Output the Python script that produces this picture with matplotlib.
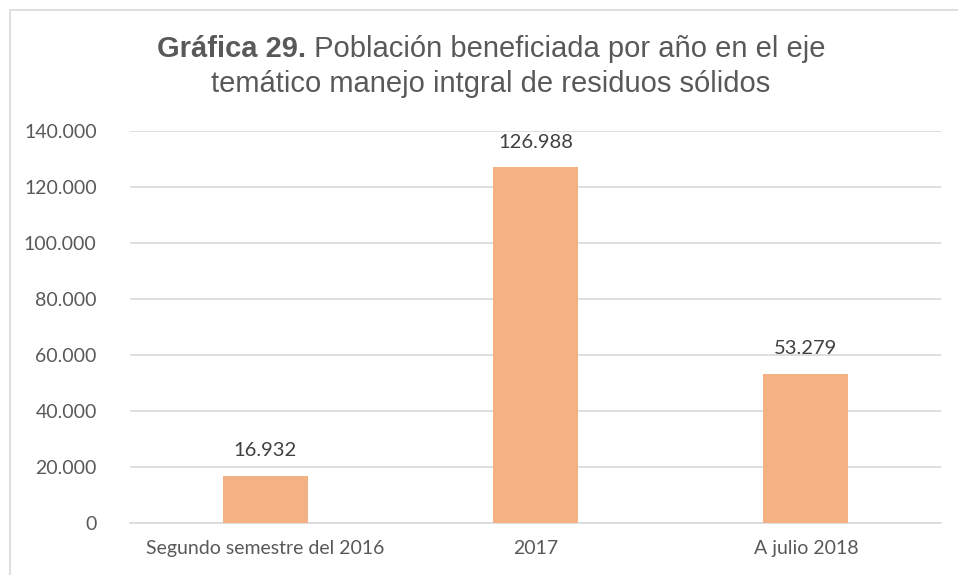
import matplotlib
matplotlib.use("Agg")
import matplotlib.pyplot as plt
from matplotlib.patches import Rectangle
from matplotlib.ticker import FuncFormatter

categories = ["Segundo semestre del 2016", "2017", "A julio 2018"]
values = [16932, 126988, 53279]
yticks = [0, 20000, 40000, 60000, 80000, 100000, 120000, 140000]

def fmt(v):
    return f"{int(v):,}".replace(",", ".")

W, H = 958, 575
fig = plt.figure(figsize=(W / 100, H / 100), dpi=100)
fig.patch.set_facecolor("white")

# chart border
fig.patches.append(Rectangle((10 / W, -0.1), 1.2, 1 - 10 / H + 0.1,
                             transform=fig.transFigure, fill=False,
                             edgecolor="#D9D9D9", linewidth=1.2))

ax = fig.add_axes([130 / W, 1 - 523 / H, (941 - 130) / W, (523 - 131) / H])
x = range(len(categories))
ax.bar(x, values, width=0.315, color="#F4B183", zorder=3)
ax.set_xlim(-0.5, len(categories) - 0.5)
ax.set_ylim(0, 140000)
ax.set_yticks(yticks)
ax.yaxis.set_major_formatter(FuncFormatter(lambda v, p: fmt(v)))
ax.set_xticks(list(x))
ax.set_xticklabels(categories)
ax.grid(axis="y", color="#D9D9D9", linewidth=1.2, zorder=0)
for s in ["top", "right", "left"]:
    ax.spines[s].set_visible(False)
ax.spines["bottom"].set_color("#D9D9D9")
ax.spines["bottom"].set_linewidth(1.2)
ax.tick_params(axis="both", length=0, colors="#595959", labelsize=14)
ax.tick_params(axis="y", pad=24)
ax.tick_params(axis="x", pad=12)
for lab in ax.get_xticklabels() + ax.get_yticklabels():
    lab.set_family("Lato")

for xi, v in zip(x, values):
    ax.annotate(fmt(v), (xi, v), xytext=(0, 12), textcoords="offset points",
                ha="center", va="bottom", fontsize=14.5, color="#404040",
                family="Lato")

# Title with mixed bold / regular
t1_bold = "Gráfica 29."
t1_rest = " Población beneficiada por año en el eje"
t2 = "temático manejo intgral de residuos sólidos"
fs = 21
fig.canvas.draw()
r = fig.canvas.get_renderer()
tb = fig.text(0, 0, t1_bold, fontsize=fs, weight="bold", color="#595959",
              family="Liberation Sans", va="baseline")
tr = fig.text(0, 0, t1_rest, fontsize=fs, color="#595959",
              family="Liberation Sans", va="baseline")
wb = tb.get_window_extent(r).width
wr = tr.get_window_extent(r).width
total = wb + wr
cx = 491
left = cx - total / 2
y1 = 1 - 57 / H
tb.set_position((left / W, y1))
tr.set_position(((left + wb) / W, y1))
fig.text(cx / W, 1 - 92 / H, t2, fontsize=fs, color="#595959",
         family="Liberation Sans", ha="center", va="baseline")

fig.savefig("out.png", dpi=100, facecolor="white")
